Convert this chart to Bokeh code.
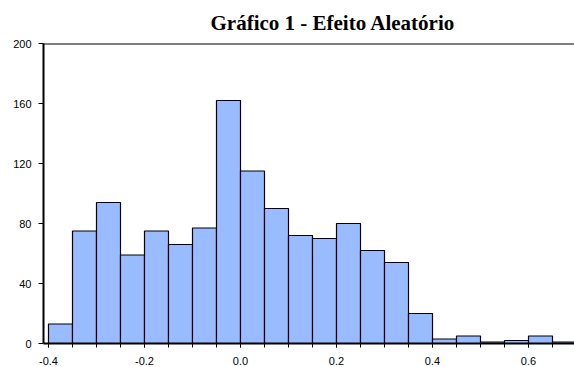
from bokeh.plotting import figure
from bokeh.models import FixedTicker, Span, Range1d, ColumnDataSource
from bokeh.embed import file_html
from bokeh.resources import INLINE

# Data
bin_starts = [-0.40, -0.35, -0.30, -0.25, -0.20, -0.15, -0.10, -0.05, 0.00, 0.05, 0.10,
              0.15, 0.20, 0.25, 0.30, 0.35, 0.40, 0.45, 0.50, 0.55, 0.60, 0.65]
bin_width = 0.05
counts = [13, 75, 94, 59, 75, 66, 77, 162, 115, 90, 72, 70, 80, 62, 54, 20, 3, 5, 1, 2, 5, 1]
x_ticks = [-0.4, -0.2, 0.0, 0.2, 0.4, 0.6]
x_tick_labels = ["-0.4", "-0.2", "0.0", "0.2", "0.4", "0.6"]
y_ticks = [0, 40, 80, 120, 160, 200]
title_text = "Gráfico 1 - Efeito Aleatório"

src = ColumnDataSource(dict(
    left=bin_starts,
    right=[b + bin_width for b in bin_starts],
    top=counts,
))

p = figure(width=574, height=367, output_backend="svg", toolbar_location=None,
           x_range=Range1d(-0.4104, 0.6958), y_range=Range1d(0, 200),
           min_border_left=43, min_border_right=0, min_border_top=43, min_border_bottom=24,
           title=title_text)
p.outline_line_color = None
p.xgrid.visible = False
p.ygrid.visible = False
p.background_fill_color = "white"
p.border_fill_color = "white"

p.title.align = "left"
p.title.offset = 167
p.title.vertical_align = "bottom"
p.title.text_font = "Liberation Serif"
p.title.text_font_style = "bold"
p.title.text_font_size = "21px"
p.title.text_line_height = 0.9
p.title.text_color = "black"
p.title.standoff = 17

p.quad(left="left", right="right", top="top", bottom=0, source=src,
       fill_color="#99BBFF", line_color="black", line_width=1.2)

# top frame line
p.add_layout(Span(location=200, dimension="width", line_color="black", line_width=2))

# x axis
minor = [round(-0.4 + 0.05 * i, 2) for i in range(23)]
p.xaxis.ticker = FixedTicker(ticks=x_ticks, minor_ticks=minor)
p.xaxis.major_label_overrides = {t: l for t, l in zip(x_ticks, x_tick_labels)}
p.xaxis.axis_line_width = 2
p.xaxis.axis_line_color = "black"
p.xaxis.major_tick_in = 0
p.xaxis.major_tick_out = 4
p.xaxis.minor_tick_in = 0
p.xaxis.minor_tick_out = 4
p.xaxis.major_tick_line_color = "black"
p.xaxis.minor_tick_line_color = "black"
p.xaxis.major_label_standoff = 9
p.xaxis.major_label_text_font = "Liberation Sans"
p.xaxis.major_label_text_font_size = "11px"
p.xaxis.major_label_text_color = "black"

# y axis
p.yaxis.ticker = FixedTicker(ticks=y_ticks, minor_ticks=[])
p.yaxis.axis_line_width = 2
p.yaxis.axis_line_color = "black"
p.yaxis.major_tick_in = 0
p.yaxis.major_tick_out = 5
p.yaxis.major_tick_line_color = "black"
p.yaxis.minor_tick_line_color = None
p.yaxis.major_label_standoff = 7
p.yaxis.major_label_text_font = "Liberation Sans"
p.yaxis.major_label_text_font_size = "11px"
p.yaxis.major_label_text_color = "black"

open("out.html", "w").write(file_html(p, INLINE))
